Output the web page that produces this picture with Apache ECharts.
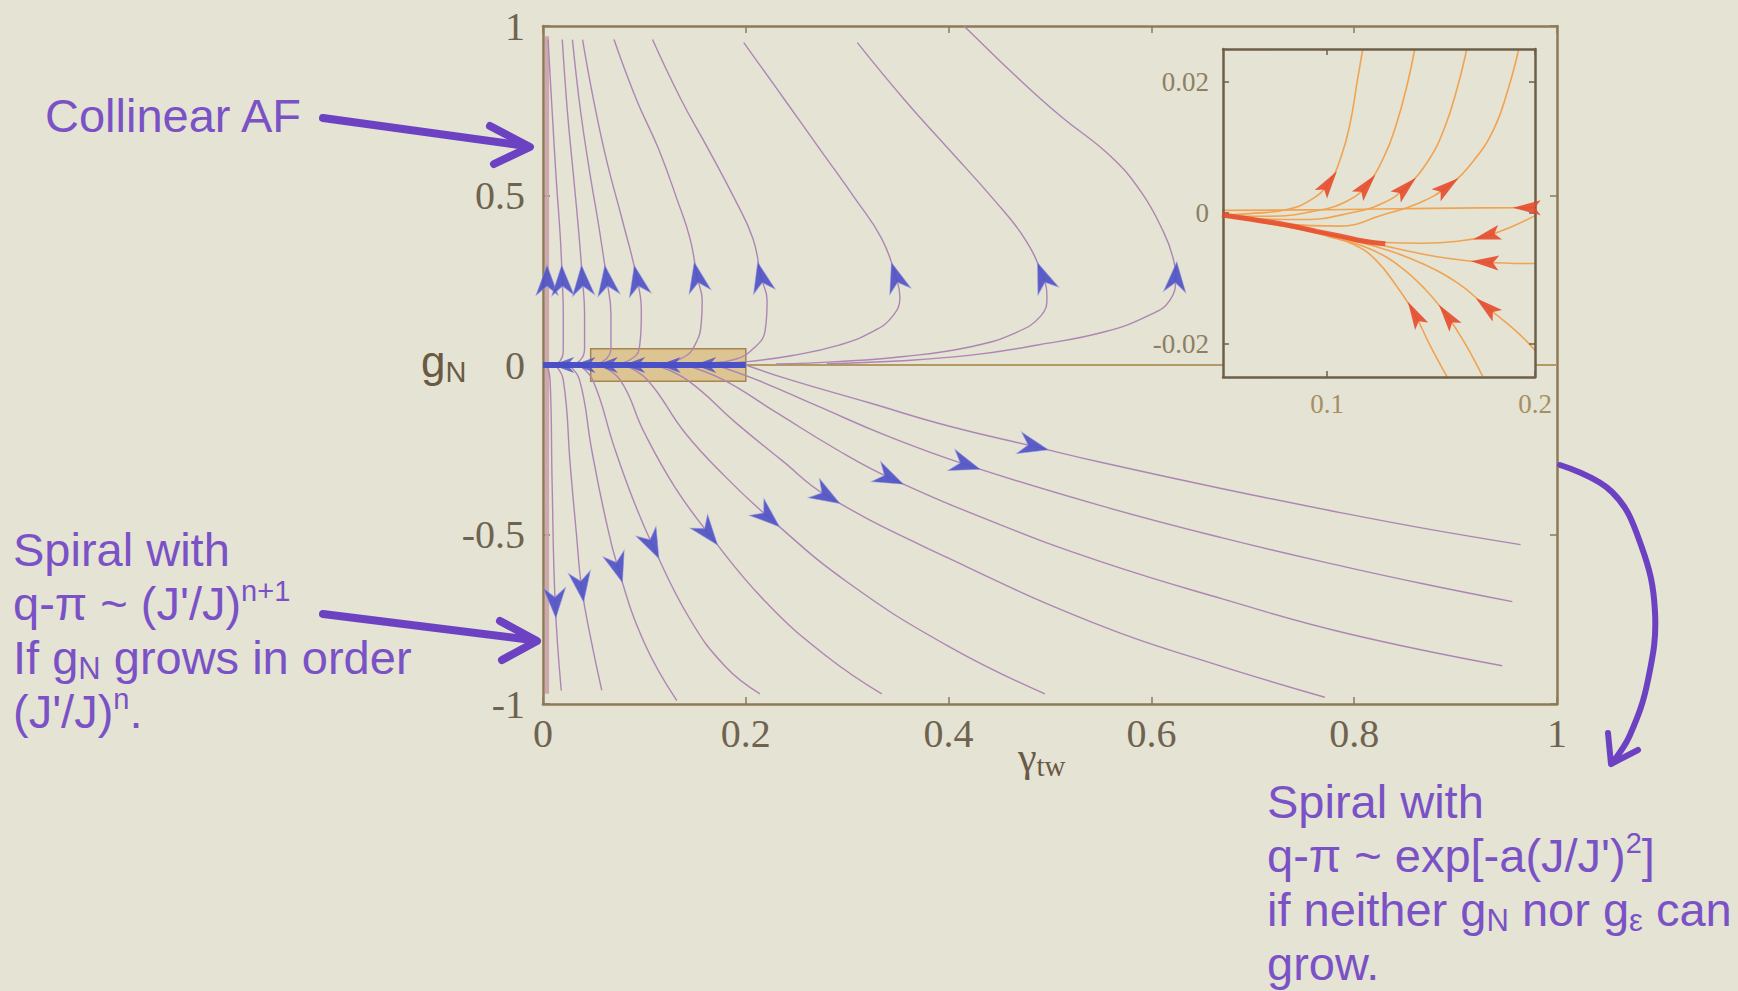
<!DOCTYPE html>
<html>
<head>
<meta charset="utf-8">
<script src="https://cdn.jsdelivr.net/npm/echarts@6/dist/echarts.min.js"></script>
<style>
html,body{margin:0;padding:0;background:#e4e3d4;}
#chart{width:1738px;height:991px;}
</style>
</head>
<body>
<div id="chart"></div>
<script>
// ---------------- data ----------------
const xRange = [0, 1];
const yRange = [-1, 1];
const xTickValues = [0, 0.2, 0.4, 0.6, 0.8, 1];
const yTickValues = [-1, -0.5, 0, 0.5, 1];
const insetXRange = [0.05, 0.2];
const insetYRange = [-0.025, 0.025];
const insetXTicks = [0.1, 0.2];
const insetYTicks = [-0.02, 0, 0.02];
const zoomBox = [[0.047, -0.048], [0.2, 0.048]];

// flow along the gN axis (gamma = 0)
const axisFlow = [[0.004, 0.97], [0.004, 0.6], [0.004, 0.25], [0.004, 0], [0.004, -0.5], [0.004, -0.97]];
const axisFlowArrowAt = 2;

// flow along gN = 0
const zeroFlowCore = [[0, 0], [0.02, 0], [0.041, 0], [0.063, 0], [0.09, 0], [0.125, 0], [0.16, 0], [0.2, 0]];
const zeroFlowArrowAt = [1, 2, 3, 4, 5, 6];
const zeroFlowTail = [[0.2, 0], [0.42, 0], [0.65, 0]];
const zeroLine = [[0, 0], [1, 0]];

// upper flow lines (from gN ~ 1 down to gN = 0)
const upperCurves = [
  [[0.005,0.96],[0.009,0.75],[0.013,0.55],[0.017,0.38],[0.019,0.25],[0.02,0.15],[0.02,0.05],[0.017,0.012],[0.01,0.002]],
  [[0.019,0.96],[0.024,0.75],[0.03,0.56],[0.035,0.4],[0.039,0.25],[0.041,0.15],[0.041,0.05],[0.036,0.012],[0.026,0.002]],
  [[0.029,0.96],[0.037,0.75],[0.046,0.57],[0.055,0.41],[0.063,0.25],[0.067,0.15],[0.067,0.05],[0.06,0.012],[0.046,0.002]],
  [[0.039,0.96],[0.05,0.78],[0.063,0.6],[0.078,0.43],[0.093,0.25],[0.097,0.15],[0.095,0.05],[0.085,0.014],[0.068,0.003]],
  [[0.07,0.96],[0.092,0.784],[0.114,0.637],[0.132,0.49],[0.145,0.373],[0.152,0.26],[0.157,0.19],[0.156,0.12],[0.15,0.06],[0.14,0.025],[0.12,0.006],[0.09,0.001]],
  [[0.108,0.96],[0.136,0.784],[0.163,0.637],[0.189,0.49],[0.207,0.373],[0.215,0.26],[0.221,0.19],[0.219,0.1],[0.208,0.05],[0.19,0.017],[0.16,0.005],[0.12,0.001]],
  [[0.198,0.951],[0.238,0.784],[0.273,0.637],[0.308,0.49],[0.334,0.373],[0.348,0.26],[0.352,0.2],[0.345,0.145],[0.326,0.1],[0.29,0.057],[0.246,0.028],[0.202,0.01],[0.16,0.003]],
  [[0.31,0.951],[0.356,0.784],[0.4,0.637],[0.444,0.49],[0.475,0.373],[0.493,0.26],[0.497,0.2],[0.491,0.145],[0.466,0.095],[0.422,0.054],[0.356,0.025],[0.29,0.01],[0.23,0.003]],
  [[0.415,1],[0.422,0.98],[0.466,0.853],[0.51,0.735],[0.559,0.618],[0.59,0.51],[0.612,0.392],[0.621,0.32],[0.624,0.26],[0.618,0.19],[0.598,0.147],[0.554,0.098],[0.488,0.059],[0.422,0.029],[0.35,0.012],[0.28,0.004]]
];
const upperArrowAt = [4, 4, 4, 4, 5, 5, 5, 5, 8];

// lower flow lines (from gN = 0 outward)
const lowerCurves = [
  [[0.004,0],[0.007,-0.044],[0.009,-0.35],[0.012,-0.702],[0.018,-0.96]],
  [[0.012,0],[0.02,-0.044],[0.027,-0.3],[0.033,-0.5],[0.038,-0.655],[0.048,-0.82],[0.058,-0.96]],
  [[0.025,0],[0.036,-0.044],[0.048,-0.25],[0.06,-0.43],[0.074,-0.599],[0.1,-0.82],[0.132,-0.99]],
  [[0.035,0],[0.049,-0.044],[0.07,-0.24],[0.088,-0.39],[0.108,-0.531],[0.145,-0.75],[0.18,-0.89],[0.214,-0.97]],
  [[0.055,0],[0.076,-0.044],[0.1,-0.2],[0.13,-0.36],[0.163,-0.496],[0.22,-0.7],[0.28,-0.86],[0.334,-0.97]],
  [[0.08,0],[0.103,-0.044],[0.14,-0.2],[0.18,-0.33],[0.222,-0.448],[0.3,-0.64],[0.4,-0.83],[0.495,-0.97]],
  [[0.11,0],[0.142,-0.044],[0.19,-0.17],[0.235,-0.28],[0.28,-0.386],[0.4,-0.57],[0.55,-0.769],[0.66,-0.88],[0.771,-0.98]],
  [[0.14,0],[0.178,-0.044],[0.23,-0.14],[0.29,-0.25],[0.342,-0.333],[0.45,-0.47],[0.55,-0.58],[0.67,-0.69],[0.789,-0.789],[0.946,-0.887]],
  [[0.17,0],[0.211,-0.044],[0.27,-0.12],[0.34,-0.21],[0.417,-0.294],[0.55,-0.415],[0.67,-0.51],[0.789,-0.594],[0.869,-0.646],[0.956,-0.698]],
  [[0.2,0],[0.244,-0.044],[0.32,-0.11],[0.4,-0.18],[0.484,-0.24],[0.55,-0.287],[0.67,-0.365],[0.789,-0.437],[0.869,-0.482],[0.964,-0.53]]
];
const lowerArrowAt = [3, 4, 4, 4, 4, 4, 4, 4, 4, 4];

// inset: curves leaving upward (listed from top end)
const insetUpCurves = [
  [[0.1172,0.025],[0.1147,0.0204],[0.1112,0.0138],[0.1069,0.0087],[0.1009,0.0046],[0.0922,0.002],[0.0802,0.0005],[0.0629,-0.0001],[0.0495,-0.0003]],
  [[0.1422,0.025],[0.1388,0.0199],[0.1336,0.0138],[0.1276,0.0087],[0.119,0.0042],[0.1095,0.0018],[0.094,0.0003],[0.0716,-0.0005],[0.0495,-0.0005]],
  [[0.1672,0.025],[0.1629,0.0194],[0.1569,0.0133],[0.1491,0.0082],[0.1379,0.0039],[0.1267,0.0015],[0.1112,0.0],[0.0888,-0.001],[0.0664,-0.0009],[0.0495,-0.0005]],
  [[0.1922,0.025],[0.1871,0.0189],[0.1802,0.0128],[0.1698,0.0077],[0.1578,0.004],[0.144,0.0015],[0.1267,-0.0003],[0.106,-0.002],[0.08,-0.0017],[0.0495,-0.0004]]
];
const insetUpArrowAt = [4, 4, 4, 4];
// inset: curves coming in (listed from outer end)
const insetInCurves = [
  [[0.2,0.0008],[0.196,0.0008],[0.15,0.0007],[0.1,0.0005],[0.0495,0.0004]],
  [[0.2,-0.0004],[0.1888,-0.0021],[0.1767,-0.0035],[0.1629,-0.0043],[0.1457,-0.0046],[0.1284,-0.0045],[0.1112,-0.0038],[0.0888,-0.0026],[0.0664,-0.0013],[0.0495,-0.0004]],
  [[0.2,-0.0077],[0.1759,-0.0075],[0.1578,-0.0069],[0.1405,-0.0059],[0.1233,-0.0047],[0.106,-0.0035],[0.0802,-0.0018],[0.0495,-0.0004]],
  [[0.2,-0.0209],[0.1905,-0.0179],[0.1767,-0.0143],[0.1629,-0.0107],[0.1457,-0.0077],[0.1284,-0.0056],[0.1112,-0.0041],[0.095,-0.0028],[0.0664,-0.0011],[0.0495,-0.0004]],
  [[0.175,-0.025],[0.1664,-0.0199],[0.1578,-0.0157],[0.1474,-0.0117],[0.1353,-0.0082],[0.1216,-0.0056],[0.1078,-0.0041],[0.0888,-0.0025],[0.0664,-0.0011],[0.0495,-0.0004]],
  [[0.1578,-0.025],[0.1491,-0.0199],[0.1422,-0.0154],[0.1336,-0.0112],[0.1233,-0.0071],[0.1129,-0.0048],[0.1009,-0.0036],[0.0802,-0.002],[0.0495,-0.0004]]
];
const insetInArrowAt = [1, 2, 1, 2, 2, 2];
const insetBand = [[0.0495,-0.0003],[0.0664,-0.0011],[0.0802,-0.0018],[0.095,-0.0028],[0.106,-0.0035],[0.118,-0.0043],[0.128,-0.0047]];

// ---------------- style ----------------
const BG = '#e4e3d4';
const SERIF = 'Liberation Serif';
const SANS = 'Liberation Sans';
const FRAME = '#8d7b56';
const LBL = '#6f6350';
const MAUVE = '#ad86b5';
const BLUE = '#4a50c6';
const ORANGE = '#f0a452';
const RED = '#e64a2c';
const PURPLE = '#7b52c6';
const ARROWC = '#6c42c2';
const MAIN = {left: 543, top: 26, width: 1014, height: 678};
const INSET = {left: 1223, top: 49, width: 312, height: 328};
const ARROW_MAIN = 'path://M0,0 L10,26 L0,18 L-10,26 Z';
const ARROW_INSET = 'path://M0,0 L6,24 L0,19 L-6,24 Z';

const fmt = v => String(+Number(v).toFixed(4));

const chart = echarts.init(document.getElementById('chart'), null, {renderer: 'svg'});

function frameAxis(extra) {
  return Object.assign({
    type: 'value',
    axisLine: {show: true, onZero: false, lineStyle: {color: FRAME, width: 2.5}},
    splitLine: {show: false}
  }, extra);
}
const insetLine = {show: true, onZero: false, lineStyle: {color: '#6e5f48', width: 2.5}};
const insetTick = vals => ({show: true, inside: true, length: 6, customValues: vals, lineStyle: {color: '#6e5f48', width: 1.5}});
const mainTick = vals => ({show: true, inside: true, length: 7, customValues: vals, lineStyle: {color: FRAME, width: 1.5}});

const xAxes = [
  frameAxis({gridIndex: 0, min: xRange[0], max: xRange[1], interval: 0.2, position: 'bottom',
    axisTick: mainTick(xTickValues),
    axisLabel: {show: true, customValues: xTickValues, margin: 9, fontFamily: SERIF, fontSize: 40, color: LBL, formatter: fmt}}),
  frameAxis({gridIndex: 0, min: xRange[0], max: xRange[1], interval: 0.2, position: 'top',
    axisTick: mainTick(xTickValues), axisLabel: {show: false}}),
  frameAxis({gridIndex: 1, min: insetXRange[0], max: insetXRange[1], position: 'bottom', z: 61,
    axisLine: insetLine, axisTick: insetTick(insetXTicks),
    axisLabel: {show: true, customValues: insetXTicks, margin: 13, fontFamily: SERIF, fontSize: 27, color: '#a68e62', formatter: fmt}}),
  frameAxis({gridIndex: 1, min: insetXRange[0], max: insetXRange[1], position: 'top', z: 61,
    axisLine: insetLine, axisTick: insetTick(insetXTicks), axisLabel: {show: false}})
];
const yAxes = [
  frameAxis({gridIndex: 0, min: yRange[0], max: yRange[1], interval: 0.5, position: 'left',
    axisTick: mainTick(yTickValues),
    axisLabel: {show: true, customValues: yTickValues, margin: 18, fontFamily: SERIF, fontSize: 40, color: LBL, formatter: fmt}}),
  frameAxis({gridIndex: 0, min: yRange[0], max: yRange[1], interval: 0.5, position: 'right',
    axisTick: mainTick(yTickValues), axisLabel: {show: false}}),
  frameAxis({gridIndex: 1, min: insetYRange[0], max: insetYRange[1], position: 'left', z: 61,
    axisLine: insetLine, axisTick: insetTick(insetYTicks),
    axisLabel: {show: true, customValues: insetYTicks, margin: 14, fontFamily: SERIF, fontSize: 27, color: '#8f7f62', formatter: fmt}}),
  frameAxis({gridIndex: 1, min: insetYRange[0], max: insetYRange[1], position: 'right', z: 61,
    axisLine: insetLine, axisTick: insetTick(insetYTicks), axisLabel: {show: false}})
];

function line(name, pts, inset, lineStyle, z, smooth) {
  return {
    name, type: 'line', data: pts, xAxisIndex: inset ? 2 : 0, yAxisIndex: inset ? 2 : 0,
    smooth: smooth === undefined ? 0.45 : smooth, symbol: 'none', silent: true, z: z,
    lineStyle: lineStyle, animation: false
  };
}

const series = [];
series.push(Object.assign(line('zeroLine', zeroLine, false, {color: '#b49a62', width: 2}, 1, false), {
  markArea: {silent: true, itemStyle: {color: 'rgba(214,172,92,0.55)', borderColor: '#a8864e', borderWidth: 1.5},
    data: [[{coord: zoomBox[0]}, {coord: zoomBox[1]}]]}
}));
series.push(line('axisFlow', axisFlow, false, {color: 'rgba(205,160,170,0.9)', width: 4}, 2, false));
upperCurves.forEach((c, i) => series.push(line('upper' + i, c, false, {color: MAUVE, width: 1.4}, 3)));
lowerCurves.forEach((c, i) => series.push(line('lower' + i, c, false, {color: MAUVE, width: 1.4}, 3)));
series.push(line('zeroFlowTail', zeroFlowTail, false, {
  width: 3.5,
  color: {type: 'linear', x: 0, y: 0, x2: 1, y2: 0, colorStops: [{offset: 0, color: 'rgba(74,80,198,0.95)'}, {offset: 0.55, color: 'rgba(74,80,198,0.75)'}, {offset: 1, color: 'rgba(120,110,200,0.2)'}]}
}, 4, false));
series.push(line('zeroFlowCore', zeroFlowCore, false, {color: BLUE, width: 6}, 4, false));
insetUpCurves.forEach((c, i) => series.push(line('insetUp' + i, c, true, {color: ORANGE, width: 1.6}, 60)));
insetInCurves.forEach((c, i) => series.push(line('insetIn' + i, c, true, {color: ORANGE, width: 1.6}, 60)));
series.push(line('insetBand', insetBand, true, {color: RED, width: 5, opacity: 0.85}, 61));

const T = (text, x, y, rich) => ({type: 'text', x, y, z: 100, silent: true,
  style: {text, verticalAlign: 'top', align: 'left', rich}});
const richPurple = {
  n: {fontFamily: SANS, fontSize: 47, fill: PURPLE, lineHeight: 54},
  sub: {fontFamily: SANS, fontSize: 31, fill: PURPLE, lineHeight: 22, verticalAlign: 'bottom'},
  sup: {fontFamily: SANS, fontSize: 29, fill: PURPLE, lineHeight: 22, verticalAlign: 'top'}
};
const richAxisG = {
  g: {fontFamily: SANS, fontSize: 44, fill: '#6a5a44', lineHeight: 50},
  s: {fontFamily: SANS, fontSize: 29, fill: '#6a5a44', lineHeight: 20, verticalAlign: 'bottom'}
};
const richAxisGamma = {
  g: {fontFamily: SERIF, fontSize: 42, fill: '#6a5a44', lineHeight: 46},
  s: {fontFamily: SERIF, fontSize: 29, fill: '#6a5a44', lineHeight: 20, verticalAlign: 'bottom'}
};
const stroke = (points, w, smooth) => ({type: 'polyline', z: 100, silent: true,
  shape: {points, smooth: smooth || 0},
  style: {stroke: ARROWC, lineWidth: w, fill: null, lineCap: 'round', lineJoin: 'round'}});

const graphic = [
  {type: 'rect', z: 50, silent: true, shape: {x: INSET.left, y: INSET.top, width: INSET.width, height: INSET.height}, style: {fill: BG}},
  T('{n|Collinear AF}', 45, 88, richPurple),
  T('{n|Spiral with}', 13, 522, richPurple),
  T("{n|q-π ~ (J'/J)}{sup|n+1}", 13, 576, richPurple),
  T('{n|If g}{sub|N}{n| grows in order}', 13, 630, richPurple),
  T("{n|(J'/J)}{sup|n}{n|.}", 13, 684, richPurple),
  T('{n|Spiral with}', 1267, 774, richPurple),
  T("{n|q-π ~ exp[-a(J/J')}{sup|2}{n|]}", 1267, 828, richPurple),
  T('{n|if neither g}{sub|N}{n| nor g}{sub|ε}{n| can}', 1267, 882, richPurple),
  T('{n|grow.}', 1267, 936, richPurple),
  T('{g|g}{s|N}', 421, 336, richAxisG),
  T('{g|γ}{s|tw}', 1018, 734, richAxisGamma),
  stroke([[323, 118], [526, 146]], 8),
  stroke([[490, 126], [530, 147], [494, 164]], 8),
  stroke([[323, 614], [532, 640]], 8),
  stroke([[500, 621], [537, 641], [502, 660]], 8),
  stroke([[1560, 465], [1612, 492], [1641, 545], [1655, 612], [1648, 680], [1630, 735], [1612, 763]], 6, 0.4),
  stroke([[1638, 750], [1611, 764], [1608, 733]], 6)
];

chart.setOption({
  backgroundColor: BG,
  animation: false,
  grid: [Object.assign({show: false}, MAIN), Object.assign({show: false}, INSET)],
  xAxis: xAxes,
  yAxis: yAxes,
  series: series,
  graphic: graphic
});

// ---- arrows: direction taken from the curve through the library's own scales ----
function arrowItem(pts, i, dir, inset) {
  const finder = inset ? {xAxisIndex: 2, yAxisIndex: 2} : {xAxisIndex: 0, yAxisIndex: 0};
  const a = chart.convertToPixel(finder, pts[Math.max(0, i - 1)]);
  const b = chart.convertToPixel(finder, pts[Math.min(pts.length - 1, i + 1)]);
  const dx = (b[0] - a[0]) * dir, dy = (b[1] - a[1]) * dir;
  const ang = Math.atan2(-dy, dx) * 180 / Math.PI - 90;
  return {value: pts[i], symbolRotate: ang};
}
const mainArrows = [];
mainArrows.push(arrowItem(axisFlow, axisFlowArrowAt, -1, false));
upperCurves.forEach((c, k) => mainArrows.push(arrowItem(c, upperArrowAt[k], -1, false)));
lowerCurves.forEach((c, k) => mainArrows.push(arrowItem(c, lowerArrowAt[k], 1, false)));
const zeroArrows = zeroFlowArrowAt.map(i => arrowItem(zeroFlowCore, i, -1, false));
const insetArrows = [];
insetUpCurves.forEach((c, k) => insetArrows.push(arrowItem(c, insetUpArrowAt[k], -1, true)));
insetInCurves.forEach((c, k) => insetArrows.push(arrowItem(c, insetInArrowAt[k], 1, true)));

series.push({name: 'mainArrows', type: 'scatter', xAxisIndex: 0, yAxisIndex: 0, silent: true, z: 20,
  symbol: ARROW_MAIN, symbolSize: [22, 30],
  itemStyle: {color: '#5052c6', opacity: 0.92, borderColor: 'rgba(140,140,220,0.6)', borderWidth: 1}, data: mainArrows});
series.push({name: 'zeroArrows', type: 'scatter', xAxisIndex: 0, yAxisIndex: 0, silent: true, z: 20,
  symbol: ARROW_MAIN, symbolSize: [16, 22], itemStyle: {color: '#4a4ec4'}, data: zeroArrows});
series.push({name: 'insetArrows', type: 'scatter', xAxisIndex: 2, yAxisIndex: 2, silent: true, z: 70,
  symbol: ARROW_INSET, symbolSize: [15, 28], itemStyle: {color: RED, opacity: 0.9}, data: insetArrows});

chart.setOption({series: series});
</script>
</body>
</html>
